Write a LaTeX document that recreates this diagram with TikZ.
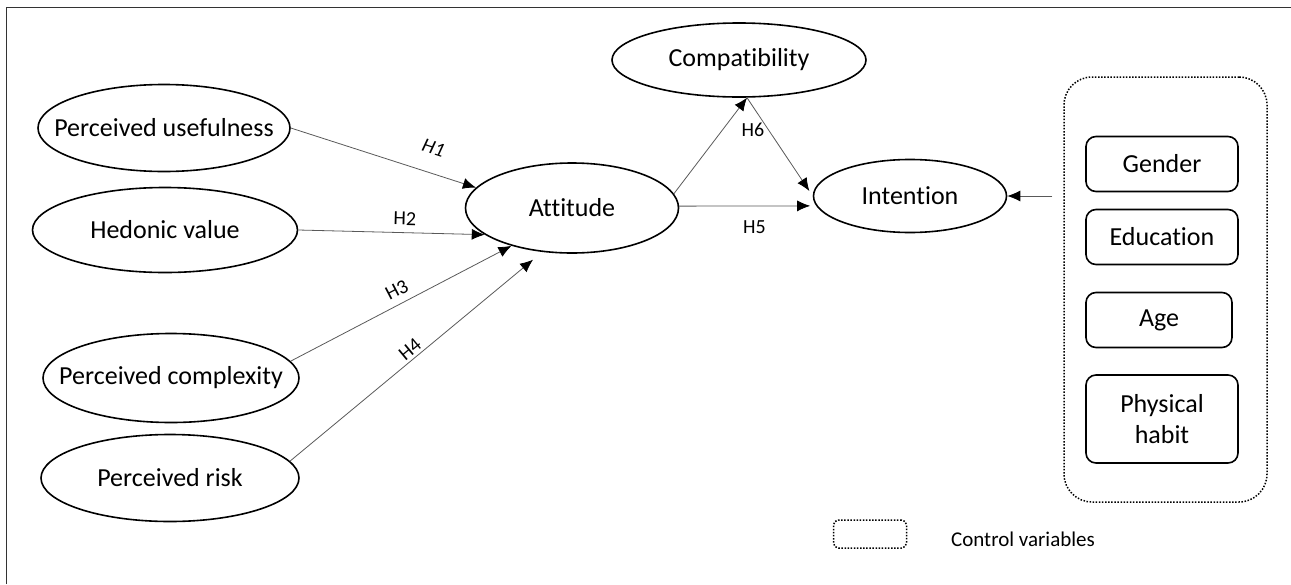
\documentclass[tikz,border=0pt]{standalone}
\usepackage{fontspec}
\setmainfont{Carlito}[Ligatures=NoCommon]
\usetikzlibrary{shapes.geometric,arrows.meta}

\newcommand{\ovaltext}[1]{\makebox[0pt]{#1}}

\tikzset{
	construct/.style={ellipse, draw, line width=1.6pt, inner sep=0pt,
		font=\fontsize{26}{31}\selectfont},
	ctrlbox/.style={rectangle, draw, line width=1.6pt, rounded corners=10pt,
		minimum width=152pt, minimum height=55pt, inner sep=0pt, align=center,
		font=\fontsize{26}{31}\selectfont},
	hyp/.style={draw=black!65, line width=0.8pt,
		-{Latex[length=13pt,width=11pt,color=black]}},
	hlabel/.style={font=\fontsize{20}{24}\selectfont, inner sep=2pt}
}

\begin{document}
\begin{tikzpicture}[x=1pt,y=-1pt]
	\useasboundingbox (0,0) rectangle (1291,584);
	% frame (cut off at right and bottom)
	\draw[line width=1pt, black!80] (6,584) -- (6,7) -- (1291,7);
	% constructs
	\node[construct, minimum width=252pt, minimum height=87pt] (pu) at (164,128) {\ovaltext{Perceived usefulness}};
	\node[construct, minimum width=265pt, minimum height=85pt] (hv) at (165,230) {\ovaltext{Hedonic value}};
	\node[construct, minimum width=256pt, minimum height=89pt] (pc) at (171,378) {\ovaltext{Perceived complexity}};
	\node[construct, minimum width=258pt, minimum height=87pt] (pr) at (170,478) {\ovaltext{Perceived risk}};
	\node[construct, minimum width=213pt, minimum height=90pt] (att) at (572,208) {\ovaltext{Attitude}};
	\node[construct, minimum width=254pt, minimum height=74pt] (comp) at (739,60) {\ovaltext{Compatibility}};
	\node[construct, minimum width=193pt, minimum height=73pt] (int) at (910,196) {\ovaltext{Intention}};
	% control variables
	\node[draw, line width=1.5pt, dash pattern=on 1.5pt off 1.6pt, rounded corners=28pt,
		minimum width=203pt, minimum height=425pt] (ctrl) at (1165.5,289.5) {};
	\node[ctrlbox] (gen) at (1162,164) {Gender};
	\node[ctrlbox] (edu) at (1162,237) {Education};
	\node[ctrlbox, minimum width=146pt] (age) at (1159,320) {Age};
	\node[ctrlbox, minimum height=88pt] (phy) at (1162,419) {Physical\\habit};
	% legend
	\node[draw, line width=1.5pt, dash pattern=on 1.5pt off 1.6pt, rounded corners=5pt,
		minimum width=73pt, minimum height=28pt] (leg) at (870,534) {};
	\node[font=\fontsize{21}{25}\selectfont] (legtext) at (1023,539) {Control variables};
	% hypotheses
	\draw[hyp] (pu.east) -- (att.168) node[hlabel, sloped, above=16pt, pos=.73] {\itshape H1};
	\draw[hyp] (hv.east) -- (att.197) node[hlabel, sloped, above=5pt, pos=.57] {H2};
	\draw[hyp] (pc.8) -- (att.212) node[hlabel, sloped, above=5pt, pos=.51] {H3};
	\draw[hyp, shorten >=12pt] (pr.8) -- (att.236) node[hlabel, sloped, above=1pt, pos=.5] {H4};
	\draw[hyp] (att.8) -- (comp.282);
	\draw[hyp, shorten >=6pt] (comp.282) -- (int.180) node[hlabel, left=2pt, pos=.33] {H6};
	\draw[hyp, shorten >=6pt] (att.1) -- (int.186) node[hlabel, below=12pt, pos=.55] {H5};
	\draw[hyp, shorten <=11pt] (ctrl.west |- int.east) -- (int.east);
\end{tikzpicture}
\end{document}
